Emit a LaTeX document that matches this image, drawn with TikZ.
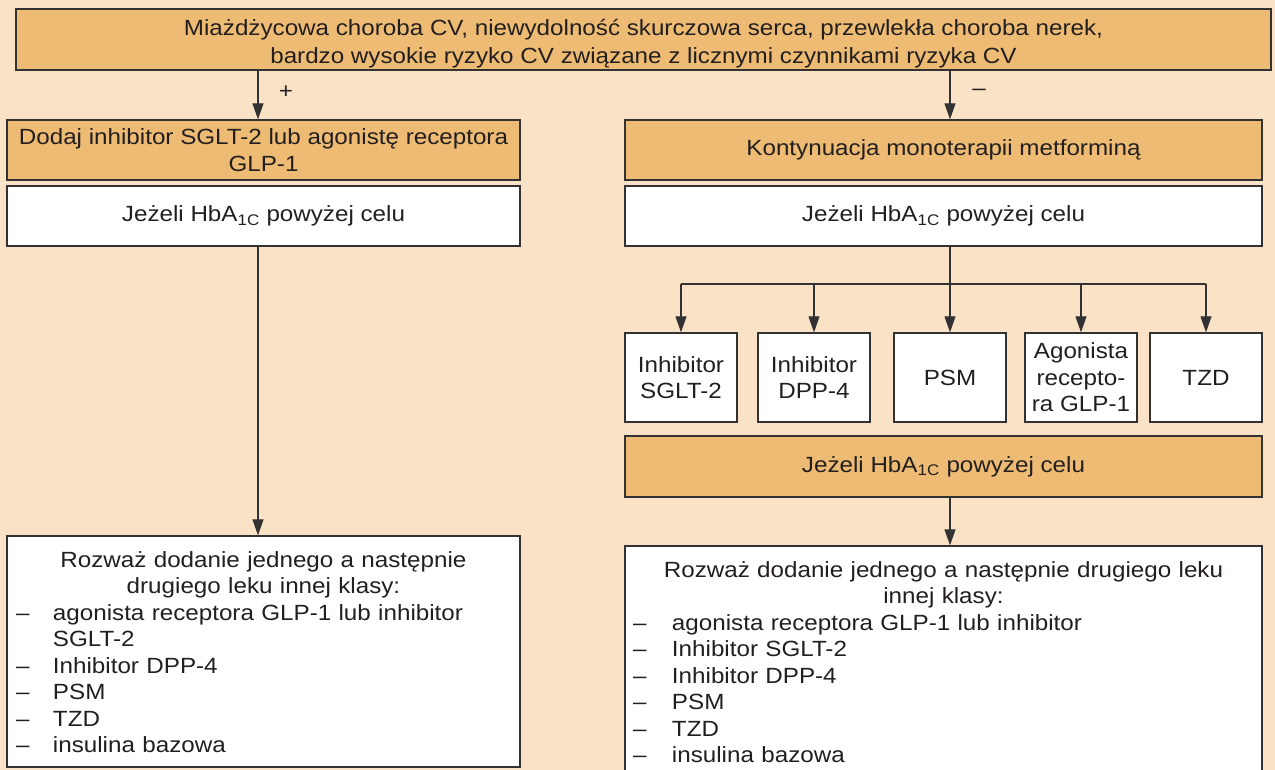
\documentclass[tikz,border=0pt]{standalone}
\usepackage{fontspec}
\setmainfont{Liberation Sans}[FakeStretch=1.1]
\usetikzlibrary{arrows.meta}
\definecolor{paper}{RGB}{249,226,197}
\definecolor{amber}{RGB}{237,187,115}
\definecolor{edge}{RGB}{50,50,50}
\definecolor{ink}{RGB}{35,31,32}
\newcommand\bodysize{\fontsize{22pt}{26.5pt}\selectfont}
\newcommand\firstline{\rule{0pt}{24.5pt}}

\begin{document}
\begin{tikzpicture}[x=1pt,y=-1pt,
  box/.style={draw=edge, line width=1.4pt, inner sep=0pt, text=ink,
              align=center, font=\bodysize},
  hot/.style={box, fill=amber},
  plain/.style={box, fill=white},
  drug/.style={plain, minimum width=112pt, minimum height=89pt},
  wire/.style={draw=edge, line width=1.2pt},
  link/.style={wire, -{Triangle[length=16pt,width=11pt]}},
  sign/.style={font=\bodysize, text=ink, inner sep=0pt},
]
% page and background
\useasboundingbox (0,0) rectangle (1275,770);
\fill[paper] (0,0) rectangle (1275,770);

% entry criterion
\node[hot, minimum width=1255pt, minimum height=61pt] (risk) at (643.5,39.5)
  {\rule{0pt}{24pt}Miażdżycowa choroba CV, niewydolność skurczowa serca, przewlekła choroba nerek,\\[1.5pt]
   bardzo wysokie ryzyko CV związane z licznymi czynnikami ryzyka CV};

% left branch (+)
\node[hot, minimum width=513pt, minimum height=60pt] (addL) at (263.5,150)
  {Dodaj inhibitor SGLT-2 lub agonistę receptora\\GLP-1};
\node[plain, minimum width=513pt, minimum height=60pt] (hbL) at (263.5,216)
  {Jeżeli HbA\textsubscript{1C} powyżej celu};
\node[plain, minimum width=513pt, minimum height=231pt, text width=495pt] (optL) at (263.5,651.5)
  {\firstline Rozważ dodanie jednego a następnie\\
   drugiego leku innej klasy:\\
   \begin{tabular}[t]{@{}p{37pt}@{}p{458pt}@{}}
   –&agonista receptora GLP-1 lub inhibitor\\
    &SGLT-2\\
   –&Inhibitor DPP-4\\
   –&PSM\\
   –&TZD\\
   –&insulina bazowa
   \end{tabular}};

% right branch (-)
\node[hot, minimum width=637pt, minimum height=60pt] (metR) at (943.5,150)
  {Kontynuacja monoterapii metforminą};
\node[plain, minimum width=637pt, minimum height=60pt] (hbR) at (943.5,216)
  {Jeżeli HbA\textsubscript{1C} powyżej celu};

\node[drug] (d1) at (681,377.5)  {Inhibitor\\SGLT-2};
\node[drug] (d2) at (814,377.5)  {Inhibitor\\DPP-4};
\node[drug] (d3) at (950,377.5)  {PSM};
\node[drug] (d4) at (1081,377.5) {Agonista\\recepto-\\ra GLP-1};
\node[drug] (d5) at (1206,377.5) {TZD};

\node[hot, minimum width=637pt, minimum height=61pt] (hbR2) at (943.5,466.5)
  {Jeżeli HbA\textsubscript{1C} powyżej celu};

\begin{scope}
\clip (0,0) rectangle (1275,770);
\node[plain, minimum width=637pt, minimum height=231pt, text width=621pt] (optR) at (943.5,661.5)
  {\firstline Rozważ dodanie jednego a następnie drugiego leku\\
   innej klasy:\\
   \begin{tabular}[t]{@{}p{39pt}@{}p{582pt}@{}}
   –&agonista receptora GLP-1 lub inhibitor\\
   –&Inhibitor SGLT-2\\
   –&Inhibitor DPP-4\\
   –&PSM\\
   –&TZD\\
   –&insulina bazowa
   \end{tabular}};
\end{scope}

% connectors
\draw[link] ([xshift=-5.5pt]addL.north |- risk.south) -- ([xshift=-5.5pt]addL.north);
\node[sign] (plus) at (286,92) {+};
\draw[link] ([xshift=6.5pt]metR.north |- risk.south) -- ([xshift=6.5pt]metR.north);
\node[sign] (minus) at (979,92) {–};

\draw[link] ([xshift=-5.5pt]hbL.south) -- ([xshift=-5.5pt]optL.north);

\coordinate (fork) at (950,284);
\draw[wire] ([xshift=6.5pt]hbR.south) -- (fork);
\draw[wire] (d1.north |- fork) -- (d5.north |- fork);
\foreach \d in {d1,d2,d3,d4,d5}
  \draw[link] (\d.north |- fork) -- (\d.north);

\draw[link] ([xshift=6.5pt]hbR2.south) -- ([xshift=6.5pt]optR.north);
\end{tikzpicture}
\end{document}
